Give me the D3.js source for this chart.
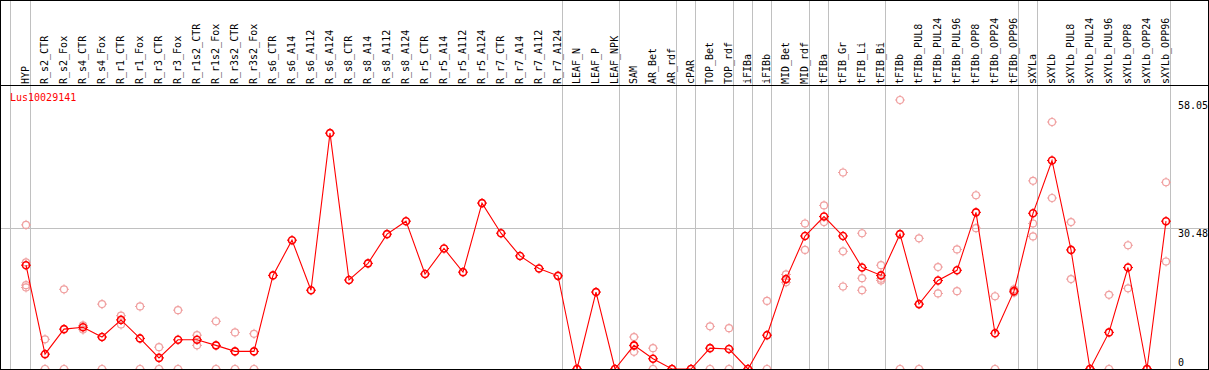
<!DOCTYPE html>
<html>
<head>
<meta charset="utf-8">
<script src="https://cdn.jsdelivr.net/npm/d3@7/dist/d3.min.js"></script>
<style>
  html, body { margin: 0; padding: 0; background: #fff; }
  svg { display: block; }
  text { font-family: "DejaVu Sans Mono", "Liberation Mono", monospace; font-size: 10px; }
</style>
</head>
<body>
<script>
const categories = ["HYP","R_s2_CTR","R_s2_Fox","R_s4_CTR","R_s4_Fox","R_r1_CTR","R_r1_Fox","R_r3_CTR","R_r3_Fox",
  "R_r1s2_CTR","R_r1s2_Fox","R_r3s2_CTR","R_r3s2_Fox","R_s6_CTR","R_s6_A14","R_s6_A112","R_s6_A124",
  "R_s8_CTR","R_s8_A14","R_s8_A112","R_s8_A124","R_r5_CTR","R_r5_A14","R_r5_A112","R_r5_A124",
  "R_r7_CTR","R_r7_A14","R_r7_A112","R_r7_A124","LEAF_N","LEAF_P","LEAF_NPK","SAM","AR_Bet","AR_rdf",
  "cPAR","TOP_Bet","TOP_rdf","iFIBa","iFIBb","MID_Bet","MID_rdf","tFIBa","tFIB_Gr","tFIB_Li","tFIB_Bi",
  "tFIBb","tFIBb_PUL8","tFIBb_PUL24","tFIBb_PUL96","tFIBb_OPP8","tFIBb_OPP24","tFIBb_OPP96",
  "sXYLa","sXYLb","sXYLb_PUL8","sXYLb_PUL24","sXYLb_PUL96","sXYLb_OPP8","sXYLb_OPP24","sXYLb_OPP96"];

const meanValues = [22.4,3.2,8.6,9.0,6.9,10.6,6.6,2.4,6.3,6.3,5.1,3.8,3.8,20.2,27.8,17.0,50.9,
  19.2,22.8,29.1,31.9,20.5,26.0,20.9,35.8,29.3,24.4,21.7,20.1,0,16.6,0,5.1,2.2,0,
  0,4.5,4.3,0,7.3,19.4,28.7,32.9,28.7,21.9,20.2,
  29.1,14.0,19.1,21.3,33.8,7.7,16.8,
  33.6,45.0,25.7,0,7.9,21.9,0,31.9];

const replicates = [[31.1,23.0,18.1,17.6],[6.4,0],[17.2,0],[9.4,8.5],[14.0,0],[11.5,9.6],[13.5,0],[4.7,0],[12.7,0],
  [7.3,5.1],[10.3,0],[7.9,0],[7.6,0],[],[],[],[],
  [],[],[],[],[],[],[],[],
  [],[],[],[],[0],[],[0],[6.9,5.0,3.7],[4.5,0],[0],
  [0],[9.2,0],[8.8,0],[0],[14.7,0],[20.4,18.7],[31.4,25.7],[35.3,31.7],[42.4,25.4,17.8],[29.3,19.6,17.0],[22.4,19.5,19.1],
  [58.05,0],[28.2,0],[22.0,16.3],[25.8,16.8],[37.5,30.4],[15.7,0],[17.2,16.5],
  [40.6,31.4,28.6],[53.3,36.9],[31.7,19.4],[0,0],[16.0,0],[26.7,17.4],[0,0],[40.3,23.2]];

const groupEnds = ["HYP","R_r7_A124","LEAF_NPK","AR_rdf","cPAR","TOP_rdf","iFIBa","iFIBb","MID_rdf","tFIBa","tFIB_Bi","tFIBb_OPP96","sXYLa","sXYLb_OPP96"];
const yTicks = [58.05, 30.48, 0];
const gridValues = [30.48];
const geneName = "Lus10029141";

const W = 1209, H = 370;
const svg = d3.select("body").append("svg").attr("width", W).attr("height", H);

const x = d3.scalePoint().domain(categories).range([26, 1166]);
const y = d3.scaleLinear().domain([0, 58.05]).range([369, 100]);

// vertical group lines
svg.append("line").attr("x1", 10.5).attr("x2", 10.5).attr("y1", 0).attr("y2", H).attr("stroke", "#c0c0c0");
svg.selectAll("line.grp").data(groupEnds).enter().append("line")
  .attr("x1", d => Math.round(x(d)) + 4.5).attr("x2", d => Math.round(x(d)) + 4.5)
  .attr("y1", 0).attr("y2", H).attr("stroke", "#c0c0c0");

// horizontal grid
svg.selectAll("line.hgrid").data(gridValues).enter().append("line")
  .attr("x1", 0).attr("x2", W).attr("y1", d => Math.round(y(d)) + 0.5).attr("y2", d => Math.round(y(d)) + 0.5)
  .attr("stroke", "#c0c0c0");

// header labels
svg.selectAll("text.cat").data(categories).enter().append("text")
  .attr("transform", d => `translate(${x(d) + 3},84) rotate(-90)`)
  .attr("fill", "#000").text(d => d);

// y tick labels
svg.selectAll("text.tick").data(yTicks).enter().append("text")
  .attr("x", 1178).attr("y", d => Math.min(y(d) + 9, 366))
  .attr("fill", "#000").text(d => d === 0 ? "0" : d3.format(".2f")(d));

// gene name
svg.append("text").attr("x", 10).attr("y", 101).attr("fill", "#ff0000").text(geneName);

// plot clip
svg.append("clipPath").attr("id", "plotclip").append("rect").attr("x", 0).attr("y", 86).attr("width", W).attr("height", 283.5);
const plot = svg.append("g").attr("clip-path", "url(#plotclip)");

function marker(sel, color, sw, r) {
  sel.append("circle").attr("r", r).attr("fill", "none").attr("stroke", color).attr("stroke-width", sw);
  sel.append("path").attr("d", `M${-r-1.5},0H${-r+0.5}M${r-0.5},0H${r+1.5}M0,${-r-1.5}V${-r+0.5}M0,${r-0.5}V${r+1.5}`)
    .attr("stroke", color).attr("stroke-width", 1);
}

// replicate points
const repData = [];
categories.forEach((c, i) => replicates[i].forEach(v => repData.push({c, v})));
plot.selectAll("g.rep").data(repData).enter().append("g")
  .attr("transform", d => `translate(${x(d.c)},${y(d.v)})`)
  .call(marker, "#f0a0a0", 1.2, 3.5);

// mean line
const lineGen = d3.line().x((d, i) => x(categories[i])).y(d => y(d));
plot.append("path").datum(meanValues).attr("d", lineGen).attr("fill", "none").attr("stroke", "#ff0000").attr("stroke-width", 1.1);

plot.selectAll("g.mean").data(meanValues).enter().append("g")
  .attr("transform", (d, i) => `translate(${x(categories[i])},${y(d)})`)
  .call(marker, "#ff0000", 1.6, 3.5);

// borders
const bc = "#000";
svg.append("line").attr("x1", 0).attr("x2", W).attr("y1", 0.5).attr("y2", 0.5).attr("stroke", bc);
svg.append("line").attr("x1", 0).attr("x2", W).attr("y1", 85.5).attr("y2", 85.5).attr("stroke", bc);
svg.append("line").attr("x1", 0).attr("x2", W).attr("y1", 369.5).attr("y2", 369.5).attr("stroke", bc);
svg.append("line").attr("x1", 0.5).attr("x2", 0.5).attr("y1", 0).attr("y2", H).attr("stroke", bc);
svg.append("line").attr("x1", 1208.5).attr("x2", 1208.5).attr("y1", 0).attr("y2", H).attr("stroke", bc);
</script>
</body>
</html>
